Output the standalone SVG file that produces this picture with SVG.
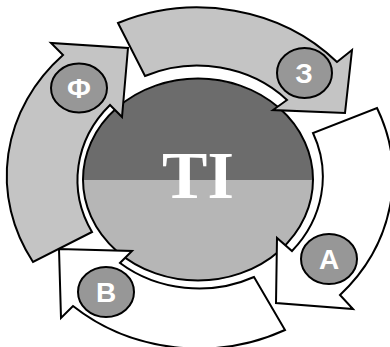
<svg xmlns="http://www.w3.org/2000/svg" width="390" height="347" viewBox="0 0 390 347">
<style>
.ol{stroke:#000;stroke-width:2;stroke-linejoin:miter}
.garrow{fill:#c4c4c4}
.warrow{fill:#ffffff}
.badge{fill:#979797;stroke:#000;stroke-width:2}
.lbl{font-family:"Liberation Sans",Arial,sans-serif;font-weight:bold;font-size:28px;fill:#fff;text-anchor:middle}
.big{font-family:"Liberation Serif","Times New Roman",serif;font-weight:bold;font-size:68px;fill:#fff;text-anchor:middle}
</style>
<rect width="390" height="347" fill="#fff"/>
<g id="center">
<path d="M83,180 A115 101 0 0 1 313,180 Z" fill="#6c6c6c"/>
<path d="M83,180 A115 101 0 0 0 313,180 Z" fill="#b6b6b6"/>
<ellipse cx="198" cy="179.5" rx="115" ry="101" fill="none" class="ol"/>
<text class="big" x="198" y="198">TI</text>
</g>
<g id="connectors">
<path id="arrow-f" class="garrow ol" d="M33,262 A190 170 0 0 1 63,55 L51,43 L128,48 L122,117 L110,105 A124 111 0 0 0 92,232 Z"/>
<path id="arrow-z" class="garrow ol" d="M118,23 A190 170 0 0 1 337,62 L352,50 L345,113 L273,110 L287,100 A124 111 0 0 0 145,76 Z"/>
<path id="arrow-a" class="warrow ol" d="M377,108 A192 172 0 0 1 340,295 L353,309 L276,303 L277,238 L292,251 A128 114 0 0 0 313,133 Z"/>
<path id="arrow-b" class="warrow ol" d="M285,330 A190 170 0 0 1 73,306 L61,318 L59,249 L132,251 L120,263 A124 111 0 0 0 254,277 Z"/>
</g>
<g id="node-f"><ellipse class="badge" cx="79" cy="88" rx="28" ry="24.5"/><text class="lbl" x="79" y="98">Ф</text></g>
<g id="node-z"><ellipse class="badge" cx="304.5" cy="73" rx="27.5" ry="25"/><text class="lbl" x="304" y="83">З</text></g>
<g id="node-a"><ellipse class="badge" cx="329" cy="259" rx="28" ry="25"/><text class="lbl" x="329" y="269">А</text></g>
<g id="node-b"><ellipse class="badge" cx="106" cy="292" rx="28" ry="25"/><text class="lbl" x="106" y="302">В</text></g>
</svg>
